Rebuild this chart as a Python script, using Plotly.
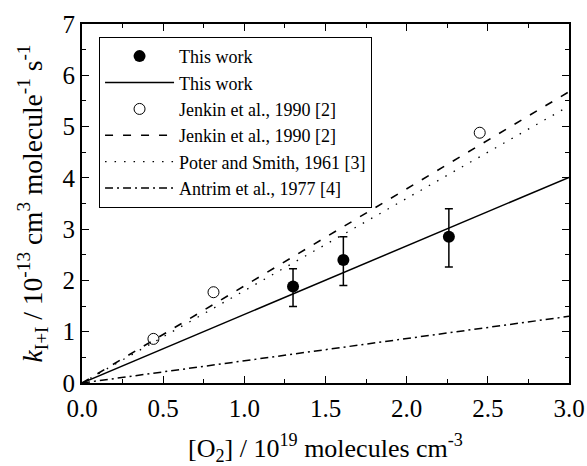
import plotly.graph_objects as go

# Data
this_x = [1.30, 1.61, 2.26]
this_y = [1.88, 2.40, 2.85]
this_err_plus = [0.35, 0.45, 0.55]
this_err_minus = [0.39, 0.50, 0.59]

fit_x = [0.0, 3.0]
fit_this = [0.0, 4.01]

jenkin_x = [0.44, 0.81, 2.45]
jenkin_y = [0.86, 1.77, 4.88]
fit_jenkin = [0.0, 5.68]

poter_x = [0.0, 3.0]
poter_y = [0.0, 5.40]

antrim_x = [0.0, 3.0]
antrim_y = [0.0, 1.30]

FONT = "Liberation Serif"

fig = go.Figure()
fig.add_trace(go.Scatter(
    x=this_x, y=this_y, mode="markers", name="This work",
    marker=dict(symbol="circle", size=12, color="black"),
    error_y=dict(type="data", array=this_err_plus, arrayminus=this_err_minus,
                 color="black", thickness=1.5, width=4),
))
fig.add_trace(go.Scatter(
    x=fit_x, y=fit_this, mode="lines", name="This work",
    line=dict(color="black", width=1.5),
))
fig.add_trace(go.Scatter(
    x=jenkin_x, y=jenkin_y, mode="markers", name="Jenkin et al., 1990 [2]",
    marker=dict(symbol="circle-open", size=11, color="black", line=dict(width=1)),
))
fig.add_trace(go.Scatter(
    x=fit_x, y=fit_jenkin, mode="lines", name="Jenkin et al., 1990 [2]",
    line=dict(color="black", width=1.6, dash="8px,10px"),
))
fig.add_trace(go.Scatter(
    x=poter_x, y=poter_y, mode="lines", name="Poter and Smith, 1961 [3]",
    line=dict(color="black", width=1.3, dash="1.5px,8px"),
))
fig.add_trace(go.Scatter(
    x=antrim_x, y=antrim_y, mode="lines", name="Antrim et al., 1977 [4]",
    line=dict(color="black", width=1.5, dash="8px,4px,2px,4px"),
))

axis_common = dict(
    showline=True, linecolor="black", linewidth=2, mirror="allticks",
    ticks="inside", ticklen=7, tickwidth=1.2, tickcolor="black",
    showgrid=False, zeroline=False, automargin=False,
    tickfont=dict(family=FONT, size=25, color="black"),
)

fig.update_xaxes(
    range=[0, 3.0], dtick=0.5, tickformat=".1f",
    minor=dict(ticks="inside", ticklen=4, dtick=0.25, tickcolor="black", tickwidth=1),
    ticklabelstandoff=2,
    title=dict(text="[O<sub>2</sub>] / 10<sup>19</sup> molecules cm<sup>-3</sup>",
               font=dict(family=FONT, size=26, color="black"), standoff=22),
    **axis_common,
)
fig.update_yaxes(
    range=[0, 7], dtick=1,
    minor=dict(ticks="inside", ticklen=4, dtick=0.5, tickcolor="black", tickwidth=1),
    title=dict(text="<i>k</i><sub>I+I</sub> / 10<sup>-13</sup> cm<sup>3</sup> molecule<sup>-1</sup> s<sup>-1</sup>",
               font=dict(family=FONT, size=27.5, color="black"), standoff=12),
    **axis_common,
)

fig.update_layout(
    width=587, height=466,
    margin=dict(l=82, r=18, t=24, b=83),
    paper_bgcolor="white", plot_bgcolor="white",
    font=dict(family=FONT, color="black"),
    showlegend=True,
    legend=dict(
        x=0.035, y=0.964, xanchor="left", yanchor="top",
        bgcolor="white", bordercolor="black", borderwidth=1,
        font=dict(family=FONT, size=18, color="black"),
        itemwidth=69, tracegroupgap=0,
    ),
)

fig.write_html("out.html")
